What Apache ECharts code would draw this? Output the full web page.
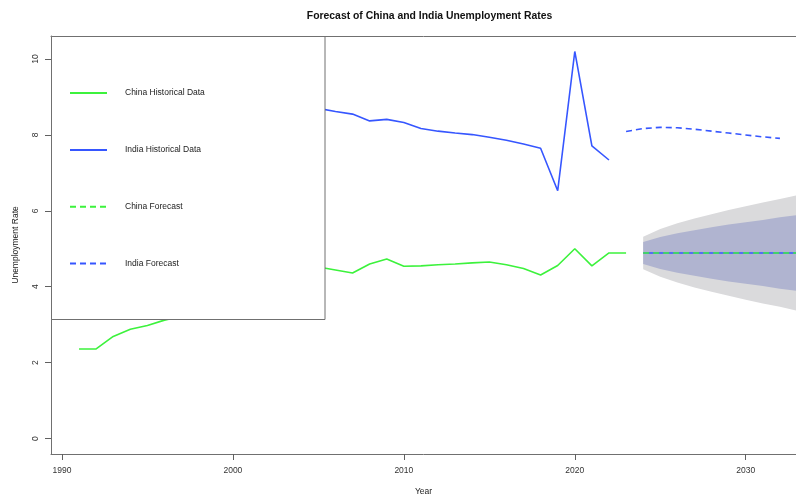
<!DOCTYPE html>
<html>
<head>
<meta charset="utf-8">
<title>Forecast of China and India Unemployment Rates</title>
<script src="https://cdn.jsdelivr.net/npm/echarts@6/dist/echarts.min.js"></script>
<style>
  html, body { margin: 0; padding: 0; background: #ffffff; }
  #chart { width: 796px; height: 496px; }
</style>
</head>
<body>
<div id="chart"></div>
<script>
// ---- data -------------------------------------------------------------
const chinaHistStart = 1991;
const chinaHist = [2.36, 2.36, 2.69, 2.88, 2.98, 3.12, 3.22, 3.20, 3.25, 3.26,
                   3.60, 4.00, 4.30, 4.25, 4.52, 4.44, 4.36, 4.60, 4.73, 4.54,
                   4.55, 4.58, 4.60, 4.63, 4.65, 4.58, 4.48, 4.31, 4.56, 5.00,
                   4.55, 4.89, 4.89];

const indiaHistStart = 1991;
const indiaHist = [6.85, 6.88, 6.92, 6.93, 7.00, 7.20, 7.30, 7.45, 7.60, 7.75,
                   7.95, 8.20, 8.40, 8.55, 8.70, 8.62, 8.55, 8.37, 8.41, 8.33,
                   8.17, 8.10, 8.05, 8.01, 7.94, 7.86, 7.76, 7.65, 6.53, 10.20,
                   7.71, 7.34];

const indiaFcStart = 2023;
const indiaFc = [8.09, 8.17, 8.20, 8.19, 8.15, 8.10, 8.05, 8.00, 7.95, 7.91];

const chinaFcStart = 2024;
const chinaFc   = [4.89, 4.89, 4.89, 4.89, 4.89, 4.89, 4.89, 4.89, 4.89, 4.89];
const chinaLo80 = [4.60, 4.47, 4.37, 4.29, 4.21, 4.14, 4.08, 4.02, 3.95, 3.89];
const chinaHi80 = [5.18, 5.31, 5.41, 5.49, 5.57, 5.64, 5.70, 5.76, 5.83, 5.89];
const chinaLo95 = [4.46, 4.26, 4.11, 3.98, 3.87, 3.76, 3.66, 3.56, 3.47, 3.37];
const chinaHi95 = [5.32, 5.52, 5.67, 5.80, 5.91, 6.02, 6.12, 6.22, 6.31, 6.41];

const xTicks = [1990, 2000, 2010, 2020, 2030];
const yTicks = [0, 2, 4, 6, 8, 10];

// ---- helpers ----------------------------------------------------------
const pairs = (start, vals) => vals.map((v, i) => [start + i, v]);

const FONT = '"Liberation Sans", Arial, Helvetica, sans-serif';
const GREEN = '#3cf23c';
const BLUE = '#3656ff';
const BOX = '#707070';
const DASH = [6, 4];

// closed outline of an interval band: upper edge forwards, lower edge back
function bandPoints(api, start, upper, lower) {
  const top = upper.map((v, i) => api.coord([start + i, v]));
  const bottom = lower.map((v, i) => api.coord([start + i, v])).reverse();
  return top.concat(bottom);
}

const chart = echarts.init(document.getElementById('chart'), null, { renderer: 'canvas' });

const option = {
  animation: false,
  backgroundColor: '#ffffff',
  textStyle: { fontFamily: FONT },
  title: {
    text: 'Forecast of China and India Unemployment Rates',
    left: 429.5,
    top: 11,
    padding: 0,
    textAlign: 'center',
    textStyle: { fontFamily: FONT, fontSize: 10.4, fontWeight: 'bold', color: '#111111' }
  },
  grid: {
    left: 51, top: 36, right: 0, bottom: 42,
    outerBoundsMode: 'none',
    containLabel: false,
    show: false
  },
  xAxis: [
    {
      type: 'value',
      min: 1989.36,
      max: 2032.94,
      name: 'Year',
      nameLocation: 'middle',
      nameGap: 33,
      nameTextStyle: { fontFamily: FONT, fontSize: 8.5, color: '#222222' },
      z: 5,
      axisLine: { show: true, onZero: false, lineStyle: { color: BOX, width: 1 } },
      axisTick: { show: true, length: 6, customValues: xTicks, lineStyle: { color: '#606060' } },
      axisLabel: {
        customValues: xTicks, margin: 12, fontFamily: FONT, fontSize: 8.5, color: '#333333',
        formatter: v => String(v)
      },
      splitLine: { show: false }
    },
    {
      // top edge of the plot frame
      type: 'value',
      position: 'top',
      min: 1989.36,
      max: 2032.94,
      z: 5,
      axisLine: { show: true, onZero: false, lineStyle: { color: BOX, width: 1 } },
      axisTick: { show: false },
      axisLabel: { show: false },
      splitLine: { show: false }
    }
  ],
  yAxis: {
    type: 'value',
    min: -0.408,
    max: 10.608,
    name: 'Unemployment Rate',
    nameLocation: 'middle',
    nameRotate: 90,
    nameGap: 31,
    nameTextStyle: { fontFamily: FONT, fontSize: 8.5, color: '#222222' },
    z: 5,
    axisLine: { show: true, onZero: false, lineStyle: { color: BOX, width: 1 } },
    axisTick: { show: true, length: 6, customValues: yTicks, lineStyle: { color: '#606060' } },
    axisLabel: {
      customValues: yTicks, rotate: 90, margin: 11, fontFamily: FONT, fontSize: 8.5, color: '#333333',
      formatter: v => String(v)
    },
    splitLine: { show: false }
  },
  legend: {
    show: true,
    orient: 'vertical',
    left: 69,
    top: 87.5,
    padding: 0,
    z: 20,
    itemWidth: 37,
    itemHeight: 14,
    itemGap: 45.6,
    selectedMode: false,
    itemStyle: { color: 'rgba(0,0,0,0)', borderWidth: 0, opacity: 0 },
    data: ['China Historical Data', 'India Historical Data', 'China Forecast', 'India Forecast'],
    textStyle: { fontFamily: FONT, fontSize: 8.5, color: '#222222', padding: [0, 0, 0, 13] }
  },
  graphic: [
    {
      type: 'rect',
      z: 10,
      shape: { x: 51.5, y: 36.5, width: 273.5, height: 283 },
      style: { fill: '#ffffff', stroke: BOX, lineWidth: 1 }
    }
  ],
  series: [
    {
      // 95% and 80% prediction intervals of the China forecast
      name: 'China intervals',
      type: 'custom',
      coordinateSystem: 'cartesian2d',
      data: [[chinaFcStart, chinaFc[0]]],
      silent: true,
      z: 1,
      renderItem: function (params, api) {
        return {
          type: 'group',
          children: [
            {
              type: 'polygon',
              shape: { points: bandPoints(api, chinaFcStart, chinaHi95, chinaLo95) },
              style: { fill: '#dadadc' }
            },
            {
              type: 'polygon',
              shape: { points: bandPoints(api, chinaFcStart, chinaHi80, chinaLo80) },
              style: { fill: '#b0b4d0' }
            }
          ]
        };
      }
    },
    {
      name: 'China mean',
      type: 'line',
      data: pairs(chinaFcStart, chinaFc),
      symbol: 'none',
      z: 2,
      lineStyle: { color: BLUE, width: 1.5 }
    },
    {
      name: 'China Historical Data',
      type: 'line',
      data: pairs(chinaHistStart, chinaHist),
      symbol: 'none',
      z: 3,
      color: GREEN,
      lineStyle: { color: GREEN, width: 1.6 }
    },
    {
      name: 'India Historical Data',
      type: 'line',
      data: pairs(indiaHistStart, indiaHist),
      symbol: 'none',
      z: 3,
      color: BLUE,
      lineStyle: { color: BLUE, width: 1.6 }
    },
    {
      name: 'China Forecast',
      type: 'line',
      data: pairs(chinaFcStart, chinaFc),
      symbol: 'none',
      z: 4,
      color: GREEN,
      lineStyle: { color: GREEN, width: 1.6, type: DASH }
    },
    {
      name: 'India Forecast',
      type: 'line',
      data: pairs(indiaFcStart, indiaFc),
      symbol: 'none',
      z: 3,
      color: BLUE,
      lineStyle: { color: BLUE, width: 1.6, type: DASH }
    }
  ]
};

chart.setOption(option);
</script>
</body>
</html>
